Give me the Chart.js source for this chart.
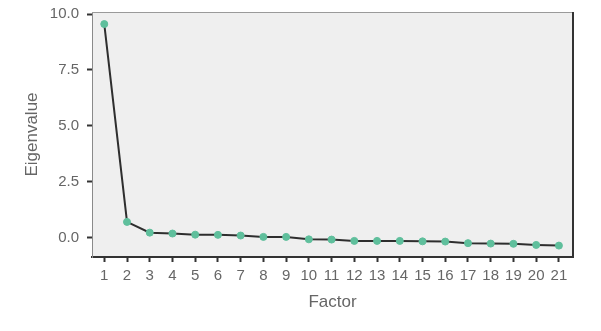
<!DOCTYPE html>
<html>
<head>
<meta charset="utf-8">
<script src="https://cdn.jsdelivr.net/npm/chart.js@4/dist/chart.umd.min.js"></script>
<style>
    html, body { margin: 0; padding: 0; background: #ffffff; }
    #wrap { width: 601px; height: 331px; }
</style>
</head>
<body>
<div id="wrap"><canvas id="scree"></canvas></div>
<script>
// scree plot data
const factors = [1, 2, 3, 4, 5, 6, 7, 8, 9, 10, 11, 12, 13, 14, 15, 16, 17, 18, 19, 20, 21];
const eigenvalues = [9.55, 0.70, 0.22, 0.18, 0.13, 0.12, 0.09, 0.03, 0.03, -0.08, -0.09,
    -0.15, -0.15, -0.15, -0.17, -0.18, -0.25, -0.27, -0.28, -0.33, -0.36];
const yTickValues = [0, 2.5, 5, 7.5, 10];

const textGrey = '#666666';

// grey plot background + top/right frame lines
const plotFrame = {
    id: 'plotFrame',
    beforeDraw(chart) {
        const {ctx, chartArea: a} = chart;
        ctx.save();
        ctx.fillStyle = '#efefef';
        ctx.fillRect(a.left, a.top, a.right - a.left, a.bottom - a.top);
        ctx.restore();
    },
    afterDraw(chart) {
        const {ctx, chartArea: a} = chart;
        ctx.save();
        ctx.strokeStyle = '#9a9a9a';
        ctx.lineWidth = 1;
        ctx.beginPath();
        ctx.moveTo(a.left, a.top + 0.5);
        ctx.lineTo(a.right, a.top + 0.5);
        ctx.stroke();
        ctx.strokeStyle = '#333333';
        ctx.lineWidth = 2;
        ctx.beginPath();
        ctx.moveTo(a.right, a.top);
        ctx.lineTo(a.right, a.bottom);
        ctx.stroke();
        ctx.restore();
    }
};

const ctx = document.getElementById('scree').getContext('2d');
const screeChart = new Chart(ctx, {
    type: 'line',
    data: {
        datasets: [{
            data: factors.map((f, i) => ({x: f, y: eigenvalues[i]})),
            borderColor: '#2e2e2e',
            borderWidth: 2,
            tension: 0,
            pointRadius: 3.5,
            pointBackgroundColor: '#5fbf9c',
            pointBorderColor: '#5fbf9c',
            pointBorderWidth: 1
        }]
    },
    options: {
        responsive: true,
        maintainAspectRatio: false,
        animation: false,
        layout: {
            padding: {left: 20, top: 12, right: 28, bottom: 18}
        },
        plugins: {
            legend: {display: false},
            tooltip: {enabled: false}
        },
        scales: {
            x: {
                type: 'linear',
                min: 0.46,
                max: 21.62,
                afterBuildTicks: function(axis) {
                    axis.ticks = factors.map(v => ({value: v}));
                },
                afterFit: function(axis) {
                    axis.height = 56;
                    axis.paddingLeft = 0;
                    axis.paddingRight = 0;
                },
                border: {color: '#333333', width: 2},
                grid: {
                    drawOnChartArea: false,
                    drawTicks: true,
                    tickLength: 5,
                    tickColor: '#333333',
                    tickWidth: 2
                },
                ticks: {
                    color: textGrey,
                    padding: 5,
                    maxRotation: 0,
                    autoSkip: false,
                    font: {family: 'Liberation Sans', size: 15}
                },
                title: {
                    display: true,
                    text: 'Factor',
                    color: textGrey,
                    padding: {top: 0, bottom: 0},
                    font: {family: 'Liberation Sans', size: 17}
                }
            },
            y: {
                min: -0.87,
                max: 10.09,
                afterBuildTicks: function(axis) {
                    axis.ticks = yTickValues.map(v => ({value: v}));
                },
                afterFit: function(axis) {
                    axis.width = 72;
                    axis.paddingTop = 0;
                    axis.paddingBottom = 0;
                },
                border: {color: '#8a8a8a', width: 1},
                grid: {
                    drawOnChartArea: false,
                    drawTicks: true,
                    tickLength: 5,
                    tickColor: '#333333',
                    tickWidth: 2
                },
                ticks: {
                    color: textGrey,
                    padding: 8,
                    font: {family: 'Liberation Sans', size: 15},
                    callback: function(value) {
                        return Number(value).toFixed(1);
                    }
                },
                title: {
                    display: true,
                    text: 'Eigenvalue',
                    color: textGrey,
                    padding: {top: 2, bottom: 0},
                    font: {family: 'Liberation Sans', size: 17}
                }
            }
        }
    },
    plugins: [plotFrame]
});
</script>
</body>
</html>
